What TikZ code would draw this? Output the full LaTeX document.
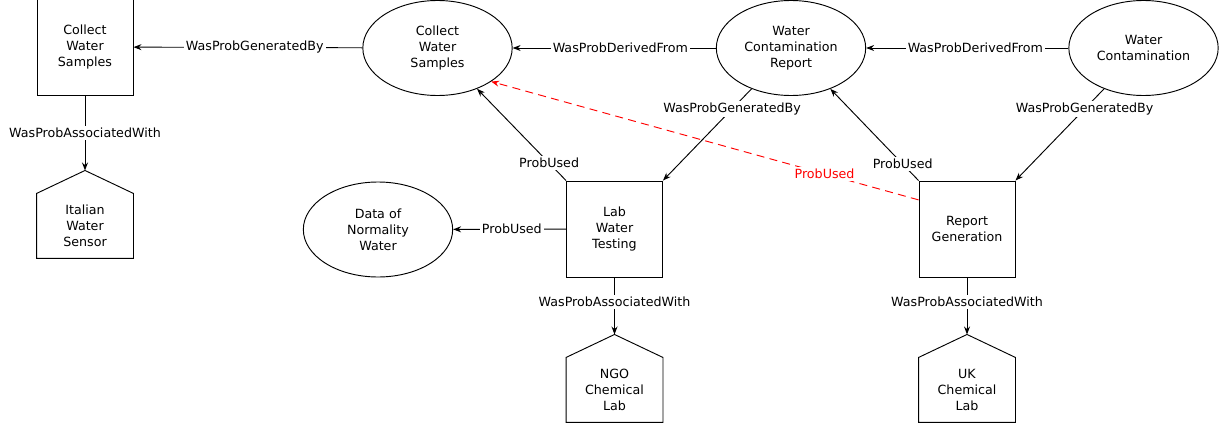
\documentclass[tikz,border=0pt]{standalone}
\usepackage{fontspec}
\setmainfont{DejaVu Sans}
\usetikzlibrary{arrows.meta,positioning,shapes.geometric}

\begin{document}
\begin{tikzpicture}[
  x=0.75pt, y=-0.75pt, line width=0.7pt,
  font=\fontsize{9.5}{12}\selectfont,
  activity/.style={draw, rectangle, minimum width=72pt, minimum height=72pt, inner sep=0pt, align=center},
  entity/.style={draw, ellipse, minimum width=112pt, minimum height=71.25pt, inner sep=0pt, align=center},
  agent/.style={rectangle, minimum width=72pt, minimum height=48pt, inner sep=0pt, align=center},
  lbl/.style={fill=white, inner sep=1.5pt},
  arr/.style={-{Stealth[length=6pt, width=4.5pt, inset=2pt]}}
]
  \useasboundingbox (0,0) rectangle (1230,428);

  % top row
  \node[activity] (collect) at (85,47) {Collect\\Water\\Samples};
  \node[entity] (samples) at (437.5,48) {Collect\\Water\\Samples};
  \node[entity] (report) at (791,48) {Water\\Contamination\\Report};
  \node[entity] (contam) at (1143.5,48) {Water\\Contamination};

  % middle row
  \node[activity] (testing) at (614.5,229) {Lab\\Water\\Testing};
  \node[activity] (generation) at (967,229) {Report\\Generation};
  \node[entity] (normality) at (378,229.5) {Data of\\Normality\\Water};

  % agents (house outline)
  \node[agent, below=73.5pt of collect] (sensor) {Italian\\Water\\Sensor};
  \node[agent, below=60pt of testing] (ngo) {NGO\\Chemical\\Lab};
  \node[agent, below=60pt of generation] (uklab) {UK\\Chemical\\Lab};
  \foreach \a in {sensor,ngo,uklab}
    \draw (\a.south west) -- (\a.north west) -- ([yshift=17.25pt]\a.north)
      -- (\a.north east) -- (\a.south east) -- cycle;

  \draw[arr] (samples) -- node[lbl, pos=0.47] {WasProbGeneratedBy} (collect);
  \draw[arr] (report) -- node[lbl, pos=0.47] {WasProbDerivedFrom} (samples);
  \draw[arr] (contam) -- node[lbl, pos=0.46] {WasProbDerivedFrom} (report);
  \draw[arr] (collect) -- node[lbl] {WasProbAssociatedWith} ([yshift=17.25pt]sensor.north);

  \draw[arr] (testing.north west) -- node[lbl, pos=0.19] {ProbUsed} (samples);
  \draw[arr] (report) -- node[lbl, pos=0.22] {WasProbGeneratedBy} (testing.north east);
  \draw[arr] (testing) -- node[lbl, pos=0.48] {ProbUsed} (normality);
  \draw[arr] (testing) -- node[lbl, pos=0.43] {WasProbAssociatedWith} ([yshift=17.25pt]ngo.north);

  \draw[arr] (generation.north west) -- node[lbl, pos=0.18] {ProbUsed} (report);
  \draw[arr] (contam) -- node[lbl, pos=0.22] {WasProbGeneratedBy} (generation.north east);
  \draw[arr] (generation) -- node[lbl, pos=0.43] {WasProbAssociatedWith} ([yshift=17.25pt]uklab.north);

  % uncertain usage
  \draw[arr, red, dash pattern=on 6pt off 4pt] (generation.149) -- node[lbl, pos=0.22, text=red] {ProbUsed} (samples.-32);
\end{tikzpicture}
\end{document}
